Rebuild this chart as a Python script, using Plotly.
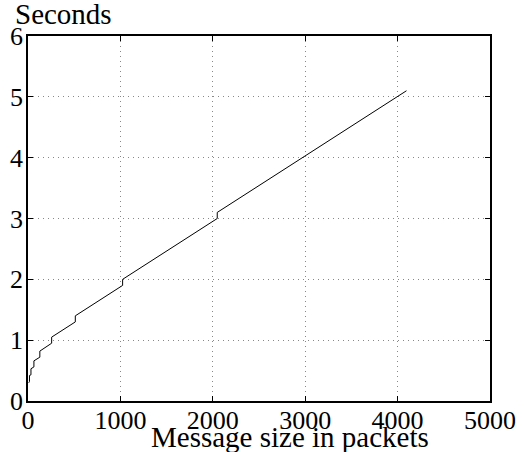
import plotly.graph_objects as go

# Message size (packets) vs time (seconds), staircase
size_packets = [8, 16, 16, 32, 32, 64, 64, 128, 128, 256, 256, 512, 512,
                1024, 1024, 2048, 2048, 4096]
seconds = [0.30, 0.32, 0.42, 0.43, 0.53, 0.56, 0.66, 0.72, 0.82, 0.95, 1.05,
           1.30, 1.40, 1.90, 2.00, 3.00, 3.10, 5.10]

x_ticks = [0, 1000, 2000, 3000, 4000, 5000]
y_ticks = [0, 1, 2, 3, 4, 5, 6]

FONT = "Liberation Serif, Times New Roman, serif"

fig = go.Figure()
fig.add_trace(go.Scatter(x=size_packets, y=seconds, mode="lines",
                         line=dict(color="black", width=1), showlegend=False))

axis_common = dict(
    showline=True, linecolor="black", linewidth=1.5, mirror="ticks",
    ticks="inside", ticklen=5, tickcolor="black", tickwidth=1,
    showgrid=True, gridcolor="#888888", griddash="1px,4px", gridwidth=1,
    zeroline=False, automargin=False,
    tickfont=dict(family=FONT, size=26, color="black"),
)

fig.update_layout(
    width=524, height=452,
    margin=dict(l=28, r=34, t=36, b=51),
    paper_bgcolor="white", plot_bgcolor="white",
    font=dict(family=FONT, color="black"),
    xaxis=dict(range=[0, 5000], tickvals=x_ticks, ticklabelstandoff=-5,
               ticktext=[str(v) for v in x_ticks], **axis_common),
    yaxis=dict(range=[0, 6], tickvals=y_ticks, ticklabelstandoff=-2,
               ticktext=[str(v) for v in y_ticks], **axis_common),
    annotations=[
        dict(text="Seconds", xref="paper", yref="paper", x=-0.0325, y=1.0,
             xanchor="left", yanchor="bottom", yshift=4, showarrow=False,
             font=dict(family=FONT, size=29, color="black")),
        dict(text="Message size in packets", xref="paper", yref="paper",
             x=0.568, y=0.0, xanchor="center", yanchor="top", yshift=-18,
             showarrow=False, font=dict(family=FONT, size=29, color="black")),
    ],
)

fig.write_html(
    "out.html",
    config={"displayModeBar": False},
    post_script="document.body.style.margin='0';"
                "document.body.style.overflow='hidden';",
)
